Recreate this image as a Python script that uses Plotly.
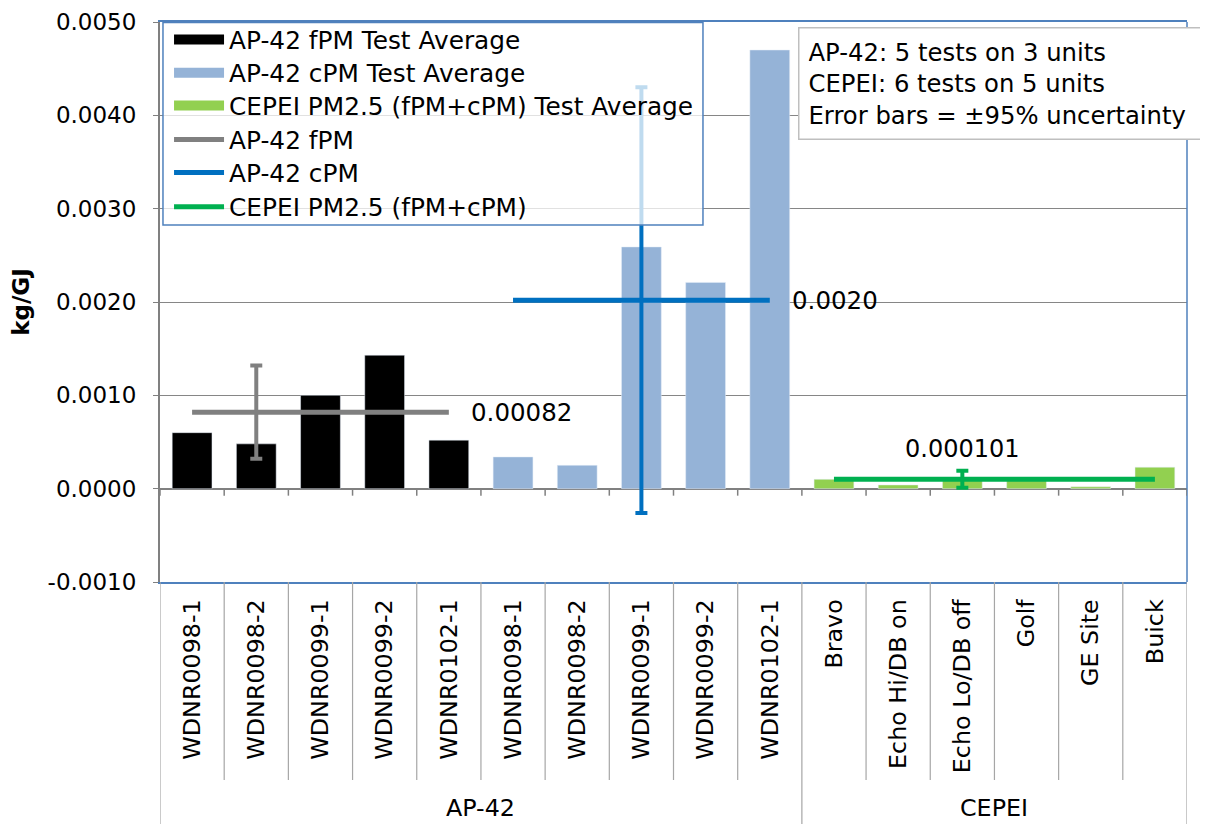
import plotly.graph_objects as go

# ---------------- data ----------------
categories = ["WDNR0098-1", "WDNR0098-2", "WDNR0099-1", "WDNR0099-2", "WDNR0102-1",
              "WDNR0098-1", "WDNR0098-2", "WDNR0099-1", "WDNR0099-2", "WDNR0102-1",
              "Bravo", "Echo Hi/DB on", "Echo Lo/DB off", "Golf", "GE Site", "Buick"]
group_names = ["AP-42", "CEPEI"]
group_sizes = [10, 6]

fpm_values = [0.00060, 0.00048, 0.00100, 0.00143, 0.00052]
cpm_values = [0.00034, 0.00025, 0.00259, 0.00221, 0.00470]
cepei_values = [0.00010, 0.00004, 0.00009, 0.00010, 0.00002, 0.00023]

fpm_avg = 0.00082
cpm_avg = 0.00202
cepei_avg = 0.000101
avg_labels = ["0.00082", "0.0020", "0.000101"]

fpm_err = 0.00050
cpm_err = 0.00228
cepei_err = 0.00009
err_index = [1, 7, 12]   # category index carrying each error bar

y_tickvals = [-0.001, 0.0, 0.001, 0.002, 0.003, 0.004, 0.005]
y_ticktext = ["-0.0010", "0.0000", "0.0010", "0.0020", "0.0030", "0.0040", "0.0050"]

legend_names = ["AP-42 fPM Test Average", "AP-42 cPM Test Average",
                "CEPEI PM2.5 (fPM+cPM) Test Average", "AP-42 fPM", "AP-42 cPM",
                "CEPEI PM2.5 (fPM+cPM)"]

note_lines = ["AP-42: 5 tests on 3 units",
              "CEPEI: 6 tests on 5 units",
              "Error bars = \u00b195% uncertainty"]

# ---------------- styles ----------------
FONT = "DejaVu Sans"
YFS = 23
XFS = 23.8
LFS = 24.8
NFS = 24.3
VFS = 24.5
C_FPM_BAR = "#000000"
C_CPM_BAR = "#95B3D7"
C_CEPEI_BAR = "#92D050"
C_FPM_LINE = "#808080"
C_CPM_LINE = "#0070C0"
C_CEPEI_LINE = "#00B050"
BLUE_BORDER = "#4F81BD"
GRID = "#868686"
legend_colors = [C_FPM_BAR, C_CPM_BAR, C_CEPEI_BAR, C_FPM_LINE, C_CPM_LINE, C_CEPEI_LINE]
legend_widths = [13, 13, 13, 5, 5, 5]
legend_rows_y = [0.9679, 0.9089, 0.8500, 0.7893, 0.7304, 0.6696]  # row centres (paper)

n_fpm = len(fpm_values)
n_cpm = len(cpm_values)
x_fpm = list(range(0, n_fpm))
x_cpm = list(range(n_fpm, n_fpm + n_cpm))
x_cepei = list(range(n_fpm + n_cpm, n_fpm + n_cpm + len(cepei_values)))

fig = go.Figure()

bar_w = 0.62
fig.add_trace(go.Bar(x=x_fpm, y=fpm_values, width=bar_w, marker_color=C_FPM_BAR,
                     showlegend=False))
fig.add_trace(go.Bar(x=x_cpm, y=cpm_values, width=bar_w, marker_color=C_CPM_BAR,
                     showlegend=False))
fig.add_trace(go.Bar(x=x_cepei, y=cepei_values, width=bar_w, marker_color=C_CEPEI_BAR,
                     showlegend=False))

# average lines
fig.add_trace(go.Scatter(x=x_fpm, y=[fpm_avg] * n_fpm, mode="lines",
                         line=dict(color=C_FPM_LINE, width=5), showlegend=False))
fig.add_trace(go.Scatter(x=x_cpm, y=[cpm_avg] * n_cpm, mode="lines",
                         line=dict(color=C_CPM_LINE, width=5), showlegend=False))
fig.add_trace(go.Scatter(x=x_cepei, y=[cepei_avg] * len(x_cepei), mode="lines",
                         line=dict(color=C_CEPEI_LINE, width=5), showlegend=False))

# error bars
for xi, yv, ev, col in zip(err_index, [fpm_avg, cpm_avg, cepei_avg],
                           [fpm_err, cpm_err, cepei_err],
                           [C_FPM_LINE, C_CPM_LINE, C_CEPEI_LINE]):
    fig.add_trace(go.Scatter(x=[xi], y=[yv], mode="markers",
                             marker=dict(color="rgba(0,0,0,0)", size=1),
                             error_y=dict(type="data", array=[ev], color=col,
                                          thickness=4, width=6),
                             showlegend=False))

# legend entries, one legend per row so that row spacing matches
legend_layouts = {}
for i, (name, col, w, ry) in enumerate(zip(legend_names, legend_colors,
                                           legend_widths, legend_rows_y)):
    key = "legend" if i == 0 else f"legend{i + 1}"
    fig.add_trace(go.Scatter(x=[None], y=[None], mode="lines", name=name,
                             line=dict(color=col, width=w), legend=key))
    legend_layouts[key] = dict(x=0.0088, y=ry, xanchor="left", yanchor="middle",
                               bgcolor="rgba(0,0,0,0)", borderwidth=0, itemwidth=50,
                               font=dict(family=FONT, size=LFS, color="black"))

shapes = []
# legend box (semi-transparent, above the data)
shapes.append(dict(type="rect", xref="paper", yref="paper", x0=0.0029, x1=0.5287,
                   y0=0.6375, y1=0.999, layer="above",
                   fillcolor="rgba(255,255,255,0.75)",
                   line=dict(color=BLUE_BORDER, width=1.5)))
# right blue border
shapes.append(dict(type="line", xref="paper", yref="paper", x0=1, x1=1, y0=0, y1=1,
                   line=dict(color=BLUE_BORDER, width=1.5)))
# tick marks on zero line
n_cat = len(categories)
for b in range(n_cat + 1):
    xb = b - 0.5
    shapes.append(dict(type="line", xref="x", yref="y", x0=xb, x1=xb, y0=0, y1=-0.000075,
                       line=dict(color=C_FPM_LINE, width=1.5)))
# category dividers below the axis
group_bounds = [0]
for s in group_sizes:
    group_bounds.append(group_bounds[-1] + s)
for b in range(n_cat + 1):
    xb = b - 0.5
    full = b in group_bounds
    shapes.append(dict(type="line", xref="x", yref="paper", x0=xb, x1=xb,
                       y0=0, y1=-0.45 if full else -0.3536,
                       line=dict(color="#A6A6A6", width=1.2)))

annotations = []
for gname, g0, g1 in zip(group_names, group_bounds[:-1], group_bounds[1:]):
    annotations.append(dict(x=(g0 + g1 - 1) / 2, xref="x", y=-0.432, yref="paper",
                            text=gname, showarrow=False,
                            font=dict(family=FONT, size=XFS, color="black")))
# average value labels
annotations.append(dict(x=x_fpm[-1], y=fpm_avg, xref="x", yref="y", text=avg_labels[0],
                        showarrow=False, xanchor="left", xshift=20,
                        font=dict(family=FONT, size=VFS, color="black")))
annotations.append(dict(x=x_cpm[-1], y=cpm_avg, xref="x", yref="y", text=avg_labels[1],
                        showarrow=False, xanchor="left", xshift=20,
                        font=dict(family=FONT, size=VFS, color="black")))
annotations.append(dict(x=err_index[2], y=cepei_avg, xref="x", yref="y", text=avg_labels[2],
                        showarrow=False, yshift=30,
                        font=dict(family=FONT, size=24, color="black")))
# note box
annotations.append(dict(x=0.6212, y=0.991, xref="paper", yref="paper", xanchor="left",
                        yanchor="top", text="<br>".join(note_lines), align="left",
                        showarrow=False, width=440, bgcolor="white",
                        bordercolor="#BFBFBF", borderwidth=1.5, borderpad=9,
                        font=dict(family=FONT, size=NFS, color="black")))

# the page body adds an 8px offset, so margins are shifted to compensate
fig.update_layout(
    width=1208, height=824,
    margin=dict(l=152, r=29, t=14, b=250, autoexpand=False),
    paper_bgcolor="white", plot_bgcolor="white",
    barmode="overlay",
    font=dict(family=FONT, size=YFS, color="black"),
    showlegend=True,
    shapes=shapes, annotations=annotations,
    **legend_layouts,
)
fig.update_xaxes(range=[-0.5, n_cat - 0.5], tickmode="array",
                 tickvals=list(range(n_cat)), ticktext=categories,
                 tickangle=-90, ticks="", showgrid=False, zeroline=False,
                 showline=True, linecolor=BLUE_BORDER, linewidth=1.5, mirror=True,
                 ticklabelstandoff=6, automargin=False,
                 tickfont=dict(family=FONT, size=XFS, color="black"))
fig.update_yaxes(range=[-0.001, 0.005], tickmode="array", tickvals=y_tickvals,
                 ticktext=y_ticktext, ticklabeloverflow="allow",
                 showgrid=True, gridcolor=GRID, gridwidth=1,
                 zeroline=True, zerolinecolor=C_FPM_LINE, zerolinewidth=2,
                 showline=True, linecolor=C_FPM_LINE, linewidth=2,
                 ticks="outside", ticklen=5, tickcolor=C_FPM_LINE,
                 ticklabelstandoff=12, automargin=False,
                 tickfont=dict(family=FONT, size=YFS, color="black"),
                 title=dict(text="<b>kg/GJ</b>", standoff=12,
                            font=dict(family=FONT, size=23, color="black")))

fig.write_html("out.html")
